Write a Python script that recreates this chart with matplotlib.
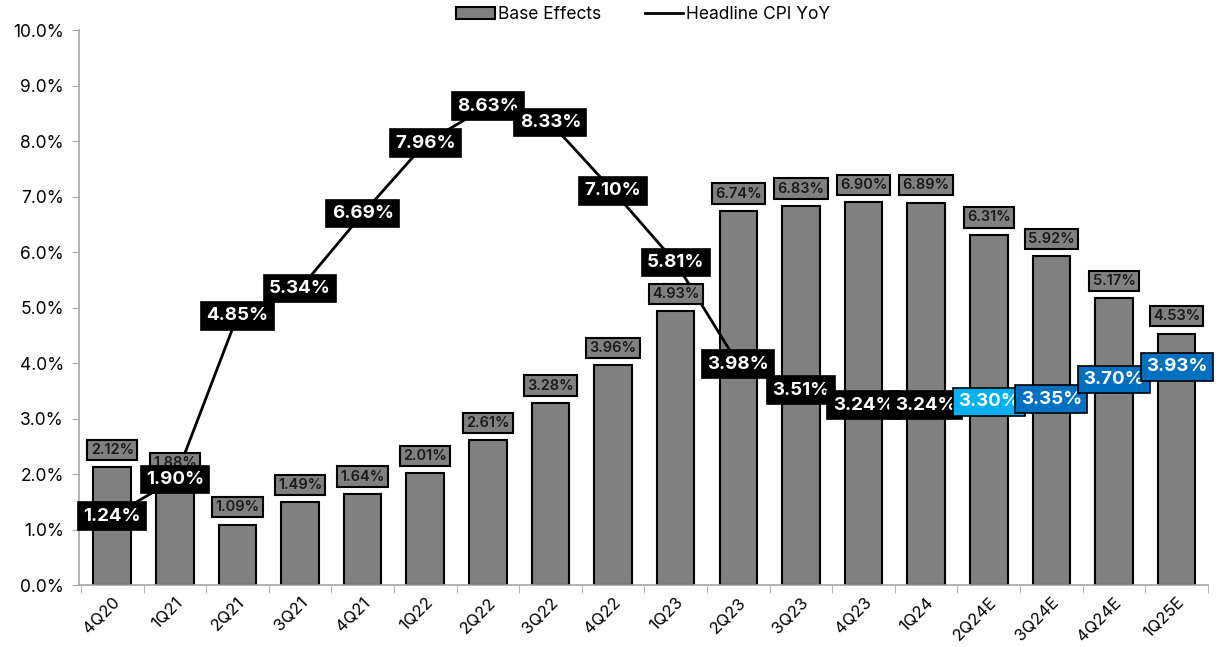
import numpy as np
import matplotlib
matplotlib.use("Agg")
import matplotlib.pyplot as plt

quarters = ["4Q20", "1Q21", "2Q21", "3Q21", "4Q21", "1Q22", "2Q22", "3Q22", "4Q22",
            "1Q23", "2Q23", "3Q23", "4Q23", "1Q24", "2Q24E", "3Q24E", "4Q24E", "1Q25E"]
base_effects = [2.12, 1.88, 1.09, 1.49, 1.64, 2.01, 2.61, 3.28, 3.96,
                4.93, 6.74, 6.83, 6.90, 6.89, 6.31, 5.92, 5.17, 4.53]
headline_cpi = [1.24, 1.90, 4.85, 5.34, 6.69, 7.96, 8.63, 8.33, 7.10,
                5.81, 3.98, 3.51, 3.24, 3.24, 3.30, 3.35, 3.70, 3.93]
label_colors = ["black"] * 14 + ["#00B0F0", "#0070C0", "#0070C0", "#0070C0"]

plt.rcParams['font.family'] = ['Inter', 'DejaVu Sans']

fig = plt.figure(figsize=(12.31, 6.47), dpi=100)
ax = fig.add_axes([0.0642, 0.0958, 0.917, 0.8578])

x = np.arange(len(quarters))
bars = ax.bar(x, base_effects, width=0.6, color="#808080", edgecolor="black", linewidth=1.5,
              label="Base Effects", zorder=2)
line, = ax.plot(x, headline_cpi, color="black", lw=2, label="Headline CPI YoY", zorder=3)

# bar labels above each bar
for xi, v in zip(x, base_effects):
    ax.annotate(f"{v:.2f}%", (xi, v), xytext=(0, 12.5), textcoords="offset points",
                ha="center", va="center", fontsize=10.5, fontweight="semibold", color="#1a1a1a",
                bbox=dict(boxstyle="square,pad=0.22", fc="#808080", ec="black", lw=1.5),
                zorder=4)

# line labels centred on each point
for xi, v, c in zip(x, headline_cpi, label_colors):
    ax.text(xi, v, f"{v:.2f}%", ha="center", va="center", fontsize=13.5,
            fontweight="bold", color="white",
            bbox=dict(boxstyle="square,pad=0.28", fc=c, ec="black", lw=1.2),
            zorder=5)

ax.set_xlim(-0.53, len(quarters) - 0.53)
ax.set_ylim(0, 10)
ax.set_yticks(np.arange(0, 10.5, 1))
ax.set_yticklabels([f"{t:.1f}%" for t in np.arange(0, 10.5, 1)], fontsize=12.5)
ax.set_xticks(x)
ax.set_xticklabels(quarters, rotation=45, ha="right", rotation_mode="anchor", fontsize=12)
ax.tick_params(axis="x", length=0, pad=7)
ax.set_xticks(np.arange(-0.5, len(quarters), 1), minor=True)
ax.tick_params(axis="x", which="minor", length=6, color="#A6A6A6")
ax.tick_params(axis="y", length=5, color="#A6A6A6", pad=6)

for s in ["top", "right"]:
    ax.spines[s].set_visible(False)
for s in ["left", "bottom"]:
    ax.spines[s].set_color("#A6A6A6")
    ax.spines[s].set_linewidth(1.2)

ax.legend([bars, line], ["Base Effects", "Headline CPI YoY"], loc="lower center",
          bbox_to_anchor=(0.5, 0.985), ncol=2, frameon=False,
          fontsize=12.5, handlelength=2.2, handletextpad=0.2, columnspacing=2.5)

fig.savefig("out.png", dpi=100)
